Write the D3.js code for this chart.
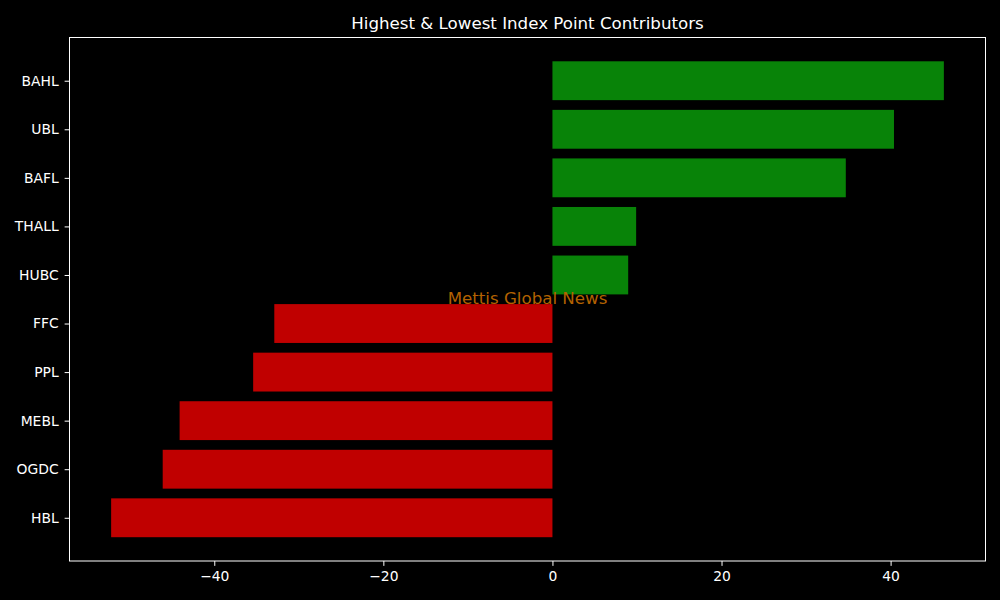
<!DOCTYPE html>
<html>
<head>
<meta charset="utf-8">
<script src="https://cdn.jsdelivr.net/npm/d3@7"></script>
<style>
  html, body { margin: 0; padding: 0; background: #000; }
  svg { display: block; font-family: "DejaVu Sans", sans-serif; }
</style>
</head>
<body>
<svg id="chart" width="1000" height="600"></svg>
<script>
// Data (bottom to top as drawn)
const categories = ["HBL", "OGDC", "MEBL", "PPL", "FFC", "HUBC", "THALL", "BAFL", "UBL", "BAHL"];
const values = [-52.2, -46.1, -44.1, -35.4, -32.9, 8.96, 9.9, 34.7, 40.4, 46.3];
const xTicks = [-40, -20, 0, 20, 40];
const titleText = "Highest & Lowest Index Point Contributors";
const watermarkText = "Mettis Global News";

const svg = d3.select("#chart");
const W = 1000, H = 600;
const m = { left: 69.5, right: 1000 - 985.5, top: 37.5, bottom: 600 - 561 };
const iw = W - m.left - m.right, ih = H - m.top - m.bottom;

svg.append("rect").attr("width", W).attr("height", H).attr("fill", "#000");

const vmin = d3.min(values), vmax = d3.max(values);
const pad = (vmax - vmin) * 0.05;
const x = d3.scaleLinear().domain([vmin - pad, vmax + pad]).range([0, iw]);

const n = categories.length;
const ylo = -0.4, yhi = n - 1 + 0.4, ypad = (yhi - ylo) * 0.05;
const y = d3.scaleLinear().domain([ylo - ypad, yhi + ypad]).range([ih, 0]);
const barH = 0.8;

const g = svg.append("g").attr("transform", `translate(${m.left},${m.top})`);

g.selectAll("rect.bar")
  .data(values)
  .join("rect")
  .attr("class", "bar")
  .attr("x", d => x(Math.min(0, d)))
  .attr("width", d => Math.abs(x(d) - x(0)))
  .attr("y", (d, i) => y(i + barH / 2))
  .attr("height", (d, i) => y(i - barH / 2) - y(i + barH / 2))
  .attr("fill", d => d >= 0 ? "#088308" : "#c00000");

// Watermark
g.append("text")
  .attr("x", iw / 2).attr("y", ih / 2 - 1)
  .attr("text-anchor", "middle").attr("dominant-baseline", "central")
  .attr("font-size", "16.67px").attr("fill", "#b36200")
  .text(watermarkText);

// Frame
g.append("rect").attr("x", 0).attr("y", 0).attr("width", iw).attr("height", ih)
  .attr("fill", "none").attr("stroke", "#fff").attr("stroke-width", 1);

// X axis
const xAxis = g.append("g").attr("transform", `translate(0,${ih})`)
  .call(d3.axisBottom(x).tickValues(xTicks).tickSize(4.86).tickPadding(4.86)
    .tickFormat(d => d < 0 ? "\u2212" + Math.abs(d) : String(d)));
xAxis.select(".domain").remove();
xAxis.selectAll("line").attr("stroke", "#fff");
xAxis.selectAll("text").attr("fill", "#fff").attr("font-size", "13.89px")
  .attr("font-family", "DejaVu Sans, sans-serif");

// Y axis
const yAxis = g.append("g")
  .call(d3.axisLeft(y).tickValues(d3.range(n)).tickSize(4.86).tickPadding(6)
    .tickFormat(i => categories[i]));
yAxis.select(".domain").remove();
yAxis.selectAll("line").attr("stroke", "#fff");
yAxis.selectAll("text").attr("fill", "#fff").attr("font-size", "13.89px")
  .attr("font-family", "DejaVu Sans, sans-serif");

// Title
svg.append("text")
  .attr("x", m.left + iw / 2).attr("y", m.top - 8.5)
  .attr("text-anchor", "middle")
  .attr("font-size", "16.67px").attr("fill", "#fff")
  .text(titleText);
</script>
</body>
</html>
